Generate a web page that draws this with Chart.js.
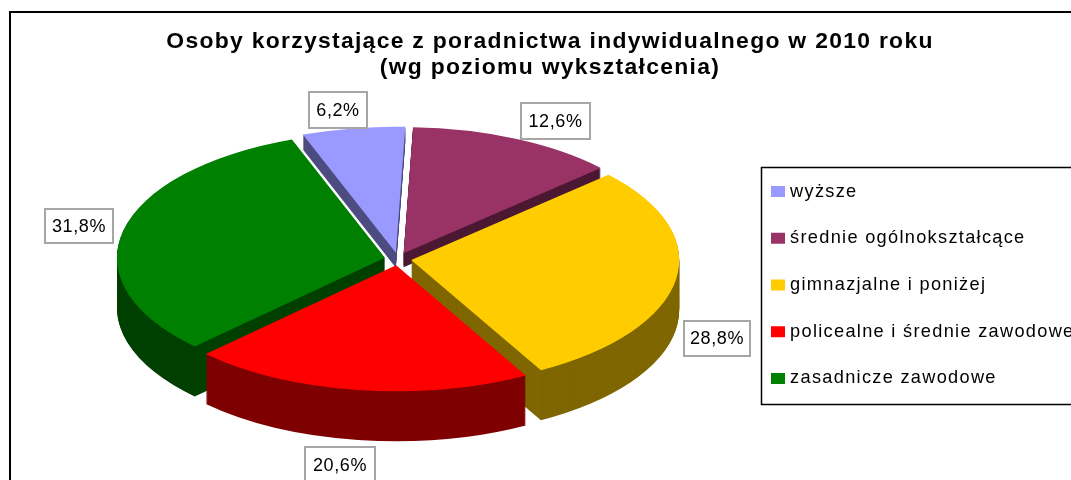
<!DOCTYPE html>
<html><head><meta charset="utf-8">
<style>html,body{margin:0;padding:0;background:#fff;overflow:hidden}#w{position:relative;width:1071px;height:480px}</style>
<script src="https://cdn.jsdelivr.net/npm/chart.js@4"></script>
</head><body><div id="w"><canvas id="c" width="1071" height="480"></canvas></div>
<script>
const titleLines = ['Osoby korzystające z poradnictwa indywidualnego w 2010 roku','(wg poziomu wykształcenia)'];
const categories = ['wyższe','średnie ogólnokształcące','gimnazjalne i poniżej','policealne i średnie zawodowe','zasadnicze zawodowe'];
const shares = [6.2,12.6,28.8,20.6,31.8];
const topColors = ['#9999FF','#993366','#FFCC00','#FF0000','#008000'];
const wallColors = ['#4C4C80','#4C1933','#7F6600','#7F0000','#004000'];
const shareLabels = ['6,2%','12,6%','28,8%','20,6%','31,8%'];

// presentation
const CX=398, CY=259, RX=268, RY=126, EXPLODE=0.05;
const wallDepth=[15,14,50,50,50];
const drawOrder=[0,1,2,4,3];
const labelBoxes=[[309,92,58,36],[521,103,69,36],[684,321,66,35],[305,447,70,36],[45,209,68,34]];
const LEGEND={x:761,y:167,b:404};
const LEGEND_PAD=28.5;

const pie3d={id:'pie3d',
  beforeDraw(chart){
    const c=chart.ctx; c.save(); c.strokeStyle='#000'; c.lineWidth=2;
    c.strokeRect(10,12,1100,600);
    c.lineWidth=1.5; c.strokeRect(LEGEND.x+.5,LEGEND.y+.5,400,LEGEND.b-LEGEND.y);
    c.restore();
    c.letterSpacing='1.3px';
  },
  afterLayout(chart){
    const t=chart.titleBlock; t.left=150; t.right=950; t.width=800; t.top=29; t.bottom=t.top+t.height;
    const l=chart.legend; l.left=775-LEGEND_PAD; l.right=1071; l.width=l.right-l.left; l.top=154; l.bottom=480; l.height=l.bottom-l.top;
  },
  beforeDatasetDraw(chart){
    const ctx=chart.ctx, arcs=chart.getDatasetMeta(0).data;
    const place=(a,d)=>{
      const R=a.outerRadius, mid=(a.startAngle+a.endAngle)/2;
      ctx.translate(CX,CY+d); ctx.scale(RX/R,RY/R);
      ctx.translate(Math.cos(mid)*EXPLODE*R,Math.sin(mid)*EXPLODE*R);
      ctx.translate(-a.x,-a.y);
    };
    drawOrder.forEach(i=>{
      const a=arcs[i], o=a.options;
      a.options=Object.assign({},o,{backgroundColor:wallColors[i]});
      for(let d=wallDepth[i];d>=1;d--){ctx.save();place(a,d);a.draw(ctx);ctx.restore();}
      a.options=o;
      ctx.save();place(a,0);a.draw(ctx);ctx.restore();
    });
    return false;
  },
  afterDraw(chart){
    const c=chart.ctx; c.save();
    c.letterSpacing='0.6px';
    c.font='18px "Liberation Sans"'; c.textAlign='center'; c.textBaseline='middle';
    shareLabels.forEach((s,i)=>{
      const [x,y,w,h]=labelBoxes[i];
      c.fillStyle='#fff'; c.fillRect(x,y,w,h);
      c.strokeStyle='#A6A6A6'; c.lineWidth=2; c.strokeRect(x,y,w,h);
      c.fillStyle='#000'; c.fillText(s,x+w/2,y+h/2+1);
    });
    c.restore();
  }
};

new Chart(document.getElementById('c'),{
  type:'pie',
  data:{labels:categories,datasets:[{data:shares,backgroundColor:topColors,borderWidth:0,hoverOffset:0}]},
  options:{
    responsive:false,animation:false,events:[],rotation:-20.3,
    layout:{padding:{left:0,right:0,top:0,bottom:0}},
    plugins:{
      tooltip:{enabled:false},
      title:{display:true,text:titleLines,color:'#000',padding:0,font:{family:'"Liberation Sans"',size:22.9,weight:'bold',lineHeight:26/22.9}},
      legend:{display:true,position:'right',align:'start',maxWidth:300,
        labels:{color:'#000',font:{family:'"Liberation Sans"',size:18.2},boxWidth:6,boxHeight:3,padding:LEGEND_PAD,
          generateLabels(chart){
            return Chart.controllers.doughnut.overrides.plugins.legend.labels.generateLabels(chart)
              .map(it=>Object.assign(it,{lineWidth:8,strokeStyle:it.fillStyle}));
          }}}
    }
  },
  plugins:[pie3d]
});
</script></body></html>
